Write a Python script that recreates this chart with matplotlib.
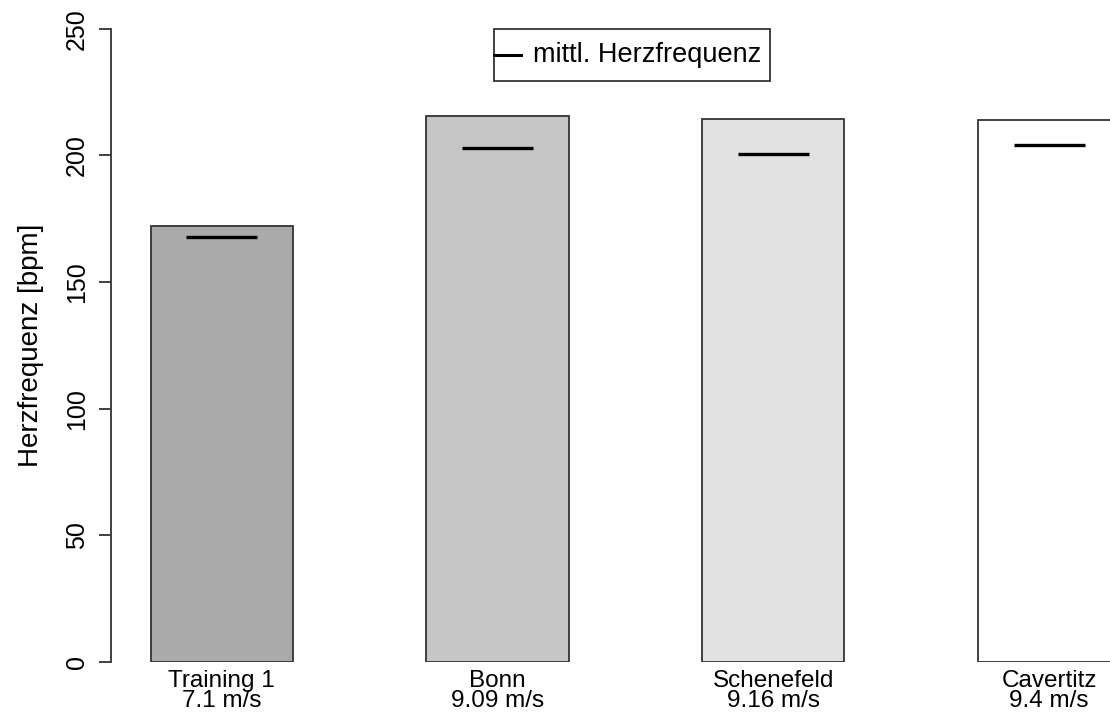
import matplotlib
matplotlib.use("Agg")
from matplotlib import pyplot as plt
from matplotlib.patches import Rectangle

plt.rcParams['font.family'] = ['Liberation Sans', 'DejaVu Sans']

orte = ["Training 1", "Bonn", "Schenefeld", "Cavertitz"]
tempo = ["7.1 m/s", "9.09 m/s", "9.16 m/s", "9.4 m/s"]
max_hf = [172.2, 215.7, 214.4, 214.0]
mittl_hf = [167.9, 202.9, 200.4, 204.2]
farben = ["#aaaaaa", "#c6c6c6", "#e2e2e2", "#ffffff"]

fig = plt.figure(figsize=(11.1, 7.17), dpi=100)
# Achse reicht etwas ueber den rechten Rand hinaus (letzter Balken abgeschnitten)
ax = fig.add_axes([111 / 1110, 55 / 717, 1030 / 1110, 633.3 / 717])

xs = list(range(len(orte)))
breite = 0.515
ax.bar(xs, max_hf, width=breite, color=farben, edgecolor="#333333", linewidth=1.3)
for x, m in zip(xs, mittl_hf):
    ax.plot([x - breite / 4, x + breite / 4], [m, m], color="black", lw=2.4, solid_capstyle="butt")

px = 275.8  # Pixel pro Balkenabstand
ax.set_xlim((111 - 221.7) / px, (1141 - 221.7) / px)
ax.set_ylim(0, 250)
for s in ["top", "right", "bottom"]:
    ax.spines[s].set_visible(False)
ax.spines["left"].set_linewidth(1.3)
ax.spines["left"].set_color("#333333")
ax.set_xticks([])
ax.set_yticks([0, 50, 100, 150, 200, 250])
ax.tick_params(axis="y", length=9, width=1.3, color="#333333", pad=7, labelsize=18)
for lab in ax.get_yticklabels():
    lab.set_rotation(90)
    lab.set_va("center")

trans = ax.get_xaxis_transform()
for x, o, t in zip(xs, orte, tempo):
    ax.text(x, -0.012, o + "\n" + t, transform=trans, ha="center", va="top",
            fontsize=17.5, linespacing=0.92)

fig.text(31 / 1110, 1 - 345 / 717, "Herzfrequenz [bpm]", rotation=90,
         ha="center", va="center", fontsize=20)

# Legende wie in R: Linie beginnt direkt am Rahmen
W = 1030
lx0, lx1 = (494 - 111) / W, (770 - 111) / W
ly0, ly1 = 1 - (81 - 28.7) / 633.3, 1.0
ax.add_patch(Rectangle((lx0, ly0), lx1 - lx0, ly1 - ly0, transform=ax.transAxes,
                       facecolor="white", edgecolor="#333333", lw=1.3, clip_on=False))
ym = (ly0 + ly1) / 2
ax.plot([lx0, (521 - 111) / W], [ym, ym], transform=ax.transAxes, color="black",
        lw=2.2, clip_on=False)
ax.text((533 - 111) / W, ym, "mittl. Herzfrequenz", transform=ax.transAxes,
        ha="left", va="center", fontsize=19.5)

fig.savefig("out.png", dpi=100)
